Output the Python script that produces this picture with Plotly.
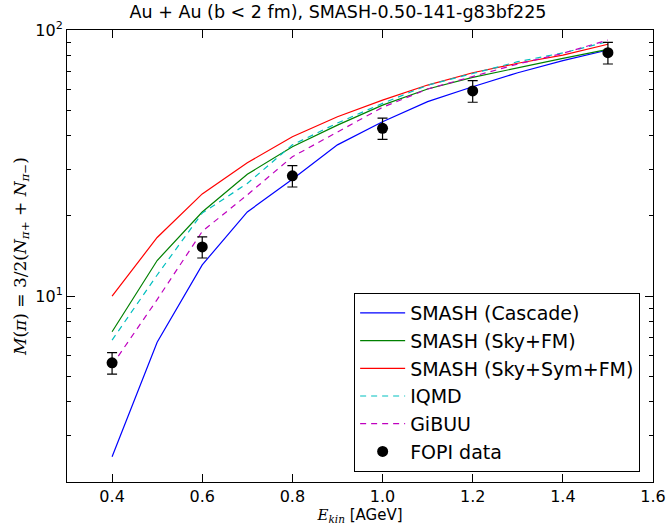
import plotly.graph_objects as go

# beam energies [AGeV]
energy = [0.4, 0.5, 0.6, 0.7, 0.8, 0.9, 1.0, 1.1, 1.2, 1.3, 1.4, 1.5]

# pion multiplicities
cascade = [2.49, 6.7, 13.1, 20.7, 27.5, 37.0, 45.2, 53.8, 61.2, 69.1, 76.7, 84.1]
sky_fm = [7.34, 13.6, 20.7, 28.7, 36.4, 43.9, 52.2, 60.0, 66.4, 72.2, 78.2, 84.6]
sky_sym_fm = [10.0, 16.6, 24.2, 31.7, 39.7, 47.2, 54.5, 62.1, 69.1, 75.0, 80.5, 88.4]
iqmd = [6.83, 12.0, 20.5, 26.5, 37.0, 44.7, 53.0, 62.0, 68.6, 76.0, 82.0, 90.4]
gibuu = [5.5, 9.7, 17.5, 24.0, 33.4, 41.5, 51.2, 60.0, 66.8, 74.5, 81.7, 91.7]

# FOPI data
fopi_e = [0.4, 0.6, 0.8, 1.0, 1.2, 1.5]
fopi_m = [5.61, 15.3, 28.3, 42.7, 59.0, 82.2]
fopi_err = [0.52, 1.4, 2.6, 3.9, 5.5, 7.7]

series = [
    ("SMASH (Cascade)", cascade, "#0000ff", "solid"),
    ("SMASH (Sky+FM)", sky_fm, "#008000", "solid"),
    ("SMASH (Sky+Sym+FM)", sky_sym_fm, "#ff0000", "solid"),
    ("IQMD", iqmd, "#00bfbf", "6px,5px"),
    ("GiBUU", gibuu, "#bf00bf", "6px,5px"),
]

fig = go.Figure()

for name, vals, color, dash in series:
    fig.add_trace(go.Scatter(x=energy, y=vals, mode="lines", name=name,
                             line=dict(color=color, width=1.2, dash=dash)))

fig.add_trace(go.Scatter(x=fopi_e, y=fopi_m, mode="markers", name="FOPI data",
                         marker=dict(color="black", size=11),
                         error_y=dict(type="data", array=fopi_err, color="black",
                                      thickness=1.2, width=5)))

minor_vals = [m * 10 ** k for k in (0, 1) for m in range(2, 10)]

fig.update_layout(
    width=668, height=526,
    plot_bgcolor="white", paper_bgcolor="white",
    font=dict(family="DejaVu Sans", color="black", size=16),
    title=dict(text="Au + Au (b < 2 fm), SMASH-0.50-141-g83bf225",
               x=0.4625, xanchor="center", xref="paper",
               y=1 - 12 / 526, yanchor="middle",
               font=dict(size=17.5)),
    margin=dict(l=67, r=15, t=30, b=44),
    showlegend=True,
    legend=dict(x=0.49, y=0.022, xanchor="left", yanchor="bottom",
                bordercolor="black", borderwidth=1, bgcolor="white",
                itemwidth=45, font=dict(size=19)),
)

fig.update_xaxes(range=[0.3, 1.6], tickvals=[0.4, 0.6, 0.8, 1.0, 1.2, 1.4, 1.6],
                 ticktext=["0.4", "0.6", "0.8", "1.0", "1.2", "1.4", "1.6"],
                 ticks="inside", ticklen=8, tickcolor="black", mirror="allticks",
                 showline=True, linecolor="black", linewidth=1, showgrid=False,
                 zeroline=False, automargin=False,
                 title=dict(text="<span style='font-family:DejaVu Serif'><i>E<sub>kin</sub></i></span> [AGeV]",
                            standoff=2, font=dict(size=15)))

fig.update_yaxes(type="log", range=[0.30103, 2], tickvals=[10, 100],
                 ticktext=["10<sup>1</sup>", "10<sup>2</sup>"],
                 ticks="inside", ticklen=8, tickcolor="black", mirror="allticks",
                 showline=True, linecolor="black", linewidth=1, showgrid=False,
                 zeroline=False, automargin=False,
                 minor=dict(tickvals=minor_vals, ticks="inside", ticklen=4,
                            tickcolor="black", showgrid=False),
                 title=dict(text="<i>M</i>(<i>π</i>) = 3/2(<i>N</i><sub><i>π</i>+</sub> + <i>N</i><sub><i>π</i>−</sub>)",
                            standoff=4, font=dict(family="DejaVu Serif", size=17)))

# drop the default page margin so the figure sits at the window's corner
fig.write_html("out.html", config={"displayModeBar": False},
               post_script="document.body.style.margin='0';")
